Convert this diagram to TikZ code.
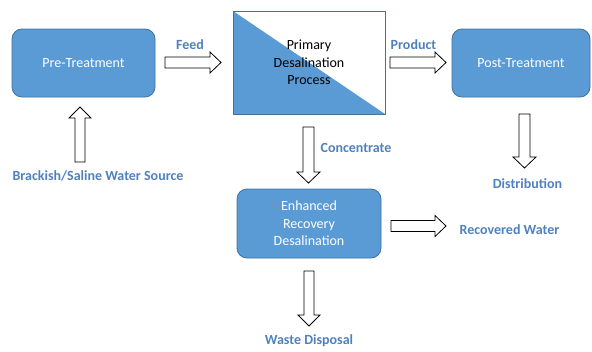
\documentclass[tikz,border=0pt]{standalone}
\usepackage{fontspec}
\setmainfont{Carlito}
\definecolor{boxblue}{HTML}{5B9BD5}
\definecolor{boxedge}{HTML}{41719C}
\definecolor{lblblue}{HTML}{4F81BD}
\begin{document}
\begin{tikzpicture}[x=1pt,y=-1pt,
  procbox/.style={draw=boxedge,fill=boxblue,rounded corners=10pt,line width=0.8pt,
    text=white,font=\fontsize{14}{17.5}\selectfont,align=center,inner sep=0pt},
  lbl/.style={text=lblblue,font=\fontsize{14}{16}\selectfont\bfseries,inner sep=0pt},
  blockarrow/.style={draw=black,fill=white,line width=0.8pt,line join=miter}]
\useasboundingbox (0,0) rectangle (592,351);
% boxes
\node[procbox,minimum width=143pt,minimum height=68pt] (pre) at (83.5,63) {Pre-Treatment};
\node[procbox,minimum width=138pt,minimum height=68pt] (post) at (521,63) {Post-Treatment};
\node[procbox,minimum width=144pt,minimum height=69pt] (enh) at (309,223.5) {Enhanced\\Recovery\\Desalination};
% primary box
\coordinate (p1) at (233,11);
\coordinate (p2) at (385,114);
\fill[boxblue] (p1) -- (p2) -- (233,114) -- cycle;
\draw[boxedge,line width=0.8pt] (p1) rectangle (p2);
\node[align=center,font=\fontsize{14}{17.5}\selectfont,inner sep=0pt] (prim) at (309,62.5) {Primary\\Desalination\\Process};
% labels
\node[lbl] (feed) at (190,45) {Feed};
\node[lbl] (prod) at (413.5,45) {Product};
\node[lbl] (conc) at (356,148) {Concentrate};
\node[lbl] (dist) at (527.5,184) {Distribution};
\node[lbl] (recw) at (509.5,230) {Recovered Water};
\node[lbl] (waste) at (309,341) {Waste Disposal};
\node[lbl] (src) at (98,176) {Brackish/Saline Water Source};
% horizontal block arrows
\draw[blockarrow] (165,57) -- (210,57) -- (210,52) -- (221,62.5) -- (210,73) -- (210,68) -- (165,68) -- cycle;
\draw[blockarrow] (390,57) -- (435,57) -- (435,52) -- (446,62.5) -- (435,73) -- (435,68) -- (390,68) -- cycle;
\draw[blockarrow] (391,220.5) -- (435,220.5) -- (435,215.5) -- (446,226) -- (435,236.5) -- (435,231.5) -- (391,231.5) -- cycle;
% vertical block arrows (down)
\draw[blockarrow] (303,127) -- (314,127) -- (314,172) -- (320,172) -- (308.5,183) -- (297,172) -- (303,172) -- cycle;
\draw[blockarrow] (519,114) -- (530,114) -- (530,157) -- (536,157) -- (524.5,168) -- (513,157) -- (519,157) -- cycle;
\draw[blockarrow] (304,271) -- (314,271) -- (314,315) -- (320,315) -- (309,326) -- (298,315) -- (304,315) -- cycle;
% up arrow
\draw[blockarrow] (75,162) -- (85,162) -- (85,118) -- (91,118) -- (80,107) -- (69,118) -- (75,118) -- cycle;
\end{tikzpicture}
\end{document}
